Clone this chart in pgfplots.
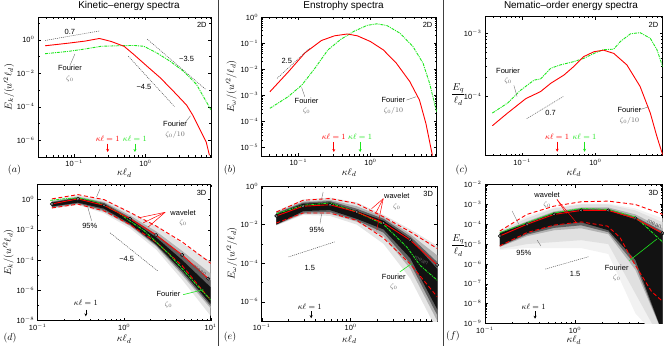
\documentclass[border=0pt]{standalone}
\usepackage{fontspec}
\setmainfont{Liberation Sans}
\usepackage{pgfplots}
\pgfplotsset{compat=1.18}
\usetikzlibrary{arrows.meta}

\definecolor{fgreen}{RGB}{30,230,30}
\newcommand\ann{\fontsize{7.5}{8.5}\selectfont}
\newcommand\mfont{\fontsize{8}{9}\selectfont}

\tikzset{leadline/.style={black!55, line width=0.4pt}}
\pgfplotsset{
  log number format basis/.code 2 args={#1\textsuperscript{\pgfmathprintnumber{#2}}},
  every axis/.append style={
    scale only axis, anchor=south west,
    axis line style={line width=0.6pt}, tick align=inside,
    major tick length=3pt, minor tick length=1.6pt,
    tick style={black, line width=0.4pt},
    ticklabel style={font=\fontsize{7.5}{8.5}\selectfont},
    label style={font=\fontsize{10}{11}\selectfont},
    xlabel={$\kappa\ell_d$},
  },
  fourierline/.style={fgreen, line width=0.9pt, dash pattern=on 3pt off 1pt on 1pt off 1pt},
  meanline/.style={red, line width=0.9pt},
  confline/.style={red, line width=0.9pt, dash pattern=on 4pt off 2.5pt},
  slopeline/.style={black!70, line width=0.5pt, dash pattern=on 1pt off 1pt},
  circmark/.style={only marks, mark=*, mark size=1.6pt, mark options={draw=black, fill=white, line width=0.6pt}},
  dotmark/.style={only marks, mark=*, mark size=0.45pt, black!70},
}

\begin{document}
\begin{tikzpicture}
\path[use as bounding box] (0,0) rectangle (664bp,346bp);

% column separators and titles
\draw[black!75, line width=0.8pt] (218.3bp,0) -- (218.3bp,346bp);
\draw[black!75, line width=0.8pt] (443.5bp,0) -- (443.5bp,346bp);
\node[font=\fontsize{10}{12}\selectfont] at (129bp,340bp) {Kinetic–energy spectra};
\node[font=\fontsize{10}{12}\selectfont] at (343.5bp,340bp) {Enstrophy spectra};
\node[font=\fontsize{10}{12}\selectfont] at (571bp,340bp) {Nematic–order energy spectra};

% ---------------- (a)
\begin{loglogaxis}[at={(38bp,189bp)}, width=173bp, height=140bp,
  xmin=0.031, xmax=8.3, ymin=1e-7, ymax=23,
  ytick={1e-6,1e-4,1e-2,1}, minor ytick={1e-7,1e-5,1e-3,1e-1,10},
  ylabel={$E_k/(u'^2\ell_d)$},
  ylabel style={at={(axis description cs:-0.168,0.5)}, anchor=center},
  xlabel style={at={(axis description cs:0.5,-0.115)}, anchor=center}]
\addplot[fourierline] coordinates {(0.039,0.148) (0.083,0.204) (0.14,0.28) (0.239,0.41) (0.41,0.44) (0.69,0.46) (0.95,0.41) (1.45,0.162) (2.22,0.052) (3.39,0.0135) (5.18,0.0022) (8.3,6.5e-5)};
\addplot[meanline] coordinates {(0.039,0.44) (0.083,0.63) (0.14,0.83) (0.226,1.2) (0.328,0.8) (0.5,0.41) (0.69,0.129) (1.055,0.026) (1.61,0.0054) (2.45,8.7e-4) (3.77,1.26e-4) (4.66,2.9e-5) (5.75,4.7e-6) (7.1,7.9e-7) (7.9,1.26e-7)};
\addplot[slopeline] coordinates {(0.039,0.91) (0.226,3.39)};
\addplot[slopeline] coordinates {(0.575,0.103) (2.54,1.05e-4)};
\addplot[slopeline] coordinates {(1.055,1.1) (6.97,1.1e-3)};
\node[font=\ann] at (axis cs:0.087,3.1) {0.7};
\node[font=\ann] at (axis cs:0.95,1.58e-3) {−4.5};
\node[font=\ann] at (axis cs:3.77,0.072) {−3.5};
\draw[leadline] (axis cs:0.087,0.029) -- (axis cs:0.102,0.141);
\node[font=\ann, align=center, inner sep=0pt] at (axis cs:0.087,9.7e-3) {Fourier\\[1pt]\textcolor{black!60}{$\zeta_0$}};
\draw[leadline] (axis cs:3.57,1.07e-5) -- (axis cs:4.28,2.9e-5);
\node[font=\ann, align=center, inner sep=0pt] at (axis cs:2.6,4.2e-6) {Fourier\\[1pt]\textcolor{black!60}{$\zeta_0/10$}};
\node[font=\ann, anchor=north east] at (rel axis cs:0.995,0.985) {2D};
\node[red, font=\mfont] at (axis cs:0.295,1.2e-6) {$\kappa\ell=1$};
\node[fgreen, font=\mfont] at (axis cs:0.71,1.2e-6) {$\kappa\ell=1$};
\draw[red, line width=0.6pt, -{Stealth[length=3pt,width=3pt]}] (axis cs:0.295,6.2e-7) -- (axis cs:0.295,2e-7);
\draw[fgreen, line width=0.6pt, -{Stealth[length=3pt,width=3pt]}] (axis cs:0.71,6.2e-7) -- (axis cs:0.71,2e-7);
\end{loglogaxis}

% ---------------- (b)
\begin{loglogaxis}[at={(261.7bp,190bp)}, width=175bp, height=139bp,
  xmin=0.031, xmax=8.3, ymin=4.8e-6, ymax=1,
  ytick={1e-5,1e-4,1e-3,1e-2,1e-1,1},
  ylabel={$E_\omega/(u'^2/\ell_d)$},
  ylabel style={at={(axis description cs:-0.174,0.5)}, anchor=center},
  xlabel style={at={(axis description cs:0.5,-0.12)}, anchor=center}]
\addplot[fourierline] coordinates {(0.0403,3.2e-4) (0.072,8.9e-4) (0.112,2.5e-3) (0.17,0.011) (0.257,0.055) (0.39,0.141) (0.589,0.282) (0.9,0.479) (1.23,0.55) (1.7,0.468) (2.57,0.24) (3.89,0.074) (5.37,0.017) (6.61,2.9e-3) (8.3,2.3e-4)};
\addplot[meanline] coordinates {(0.0403,1.38e-3) (0.073,8.1e-3) (0.123,0.042) (0.209,0.126) (0.316,0.19) (0.479,0.224) (0.66,0.19) (1.0,0.115) (1.51,0.055) (2.29,0.017) (3.51,3.4e-3) (4.79,6.6e-4) (5.89,8.3e-5) (7.24,5.0e-6)};
\addplot[slopeline] coordinates {(0.0507,4.5e-3) (0.144,0.0645)};
\node[font=\ann] at (axis cs:0.069,0.0214) {2.5};
\draw[leadline] (axis cs:0.123,8.9e-4) -- (axis cs:0.111,2.0e-3);
\node[font=\ann, align=center, inner sep=0pt] at (axis cs:0.13,4e-4) {Fourier\\[1pt]\textcolor{black!60}{$\zeta_0$}};
\draw[leadline] (axis cs:3.16,6.6e-4) -- (axis cs:4.3,8.9e-4);
\node[font=\ann, align=center, inner sep=0pt] at (axis cs:2.08,4e-4) {Fourier\\[1pt]\textcolor{black!60}{$\zeta_0/10$}};
\node[font=\ann, anchor=north east] at (rel axis cs:0.995,0.985) {2D};
\node[red, font=\mfont] at (axis cs:0.31,2.6e-5) {$\kappa\ell=1$};
\node[fgreen, font=\mfont] at (axis cs:0.72,2.6e-5) {$\kappa\ell=1$};
\draw[red, line width=0.6pt, -{Stealth[length=3pt,width=3pt]}] (axis cs:0.31,1.66e-5) -- (axis cs:0.31,6.8e-6);
\draw[fgreen, line width=0.6pt, -{Stealth[length=3pt,width=3pt]}] (axis cs:0.72,1.66e-5) -- (axis cs:0.72,6.8e-6);
\end{loglogaxis}

% ---------------- (c)
\begin{loglogaxis}[at={(485bp,190.3bp)}, width=177.7bp, height=139bp,
  xmin=0.031, xmax=8.3, ymin=1.17e-5, ymax=1.82e-3,
  ytick={1e-4,1e-3},
  ylabel={$\displaystyle\frac{E_q}{\ell_d}$},
  ylabel style={rotate=-90, at={(axis description cs:-0.15,0.44)}, anchor=center},
  xlabel style={at={(axis description cs:0.5,-0.12)}, anchor=center}]
\addplot[fourierline] coordinates {(0.039,5.5e-5) (0.063,7.9e-5) (0.095,1.26e-4) (0.145,1.82e-4) (0.178,1.9e-4) (0.245,2.8e-4) (0.331,3.16e-4) (0.5,3.55e-4) (0.69,4.0e-4) (0.955,4.8e-4) (1.29,5.5e-4) (1.78,5.6e-4) (2.19,7.4e-4) (3.02,9.8e-4) (4.07,1.02e-3) (5.62,8.3e-4) (6.92,5.5e-4) (8.3,2.95e-4)};
\addplot[meanline] coordinates {(0.039,3.47e-5) (0.063,5.5e-5) (0.112,9.3e-5) (0.178,1.2e-4) (0.245,1.62e-4) (0.372,2.19e-4) (0.5,2.95e-4) (0.69,4.27e-4) (0.955,5.1e-4) (1.29,5.4e-4) (1.78,4.8e-4) (2.69,3.16e-4) (4.07,1.45e-4) (5.62,5.5e-5) (6.92,2.34e-5) (8.3,1.2e-5)};
\addplot[slopeline] coordinates {(0.115,4.5e-5) (0.363,1e-4)};
\node[font=\ann] at (axis cs:0.243,5.6e-5) {0.7};
\draw[leadline] (axis cs:0.077,1.5e-4) -- (axis cs:0.085,1e-4);
\node[font=\ann, align=center, inner sep=0pt] at (axis cs:0.064,2.1e-4) {Fourier\\[1pt]\textcolor{black!60}{$\zeta_0$}};
\draw[leadline] (axis cs:4.0,6.2e-5) -- (axis cs:5.3,6.9e-5);
\node[font=\ann, align=center, inner sep=0pt] at (axis cs:2.91,5e-5) {Fourier\\[1pt]\textcolor{black!60}{$\zeta_0/10$}};
\node[font=\ann, anchor=north east] at (rel axis cs:0.995,0.985) {2D};
\node[red, font=\mfont] at (axis cs:0.3,2.34e-5) {$\kappa\ell=1$};
\node[fgreen, font=\mfont] at (axis cs:0.71,2.34e-5) {$\kappa\ell=1$};
\draw[red, line width=0.6pt, -{Stealth[length=3pt,width=3pt]}] (axis cs:0.3,1.95e-5) -- (axis cs:0.3,1.35e-5);
\draw[fgreen, line width=0.6pt, -{Stealth[length=3pt,width=3pt]}] (axis cs:0.71,1.95e-5) -- (axis cs:0.71,1.35e-5);
\end{loglogaxis}

% ---------------- (d)
\begin{loglogaxis}[at={(37.7bp,25.5bp)}, width=173bp, height=136bp,
  xmin=0.1, xmax=10, ymin=1e-8, ymax=10,
  ytick={1e-8,1e-6,1e-4,1e-2,1}, minor ytick={1e-7,1e-5,1e-3,1e-1,10},
  ylabel={$E_k/(u'^2\ell_d)$},
  ylabel style={at={(axis description cs:-0.17,0.5)}, anchor=center},
  xlabel style={at={(axis description cs:0.5,-0.138)}, anchor=center}]
\addplot[fill=black!10, draw=none] coordinates {(0.146,1.0) (0.292,2.0) (0.585,1.0) (1.17,0.141) (2.34,0.0178) (4.68,1.26e-3) (10,7.94e-5) (10,2.0e-8) (4.68,5.0e-6) (2.34,5.0e-4) (1.17,0.0126) (0.585,0.126) (0.292,0.447) (0.146,0.251)} -- cycle;
\addplot[fill=black!30, draw=none] coordinates {(0.146,0.794) (0.292,1.585) (0.585,0.708) (1.17,0.0891) (2.34,7.94e-3) (4.68,3.98e-4) (10,1.26e-5) (10,6.31e-8) (4.68,1e-5) (2.34,7.94e-4) (1.17,0.0178) (0.585,0.158) (0.292,0.501) (0.146,0.282)} -- cycle;
\addplot[fill=black!62, draw=none] coordinates {(0.146,0.708) (0.292,1.413) (0.585,0.603) (1.17,0.0661) (2.34,5.01e-3) (4.68,2.0e-4) (10,4.47e-6) (10,8.9e-8) (4.68,1.41e-5) (2.34,9.55e-4) (1.17,0.0209) (0.585,0.2) (0.292,0.562) (0.146,0.316)} -- cycle;
\addplot[fill=black!93, draw=none] coordinates {(0.146,0.631) (0.292,1.259) (0.585,0.501) (1.17,0.0501) (2.34,3.16e-3) (4.68,1e-4) (10,1.58e-6) (10,1.26e-7) (4.68,2.0e-5) (2.34,1.12e-3) (1.17,0.0251) (0.585,0.251) (0.292,0.631) (0.146,0.355)} -- cycle;
\addplot[confline] coordinates {(0.146,1.12) (0.292,2.14) (0.585,1.0) (1.17,0.141) (2.34,0.0178) (4.68,1.58e-3) (9.36,8.3e-5) (10,6e-5)};
\addplot[confline] coordinates {(0.146,0.282) (0.292,0.5) (0.585,0.178) (1.17,0.0219) (2.34,1.55e-3) (4.68,4.2e-5) (9.36,3.5e-7) (10,2.5e-7)};
\addplot[fourierline] coordinates {(0.14,0.89) (0.2,1.12) (0.3,1.29) (0.45,0.79) (0.6,0.4) (0.85,0.141) (1.17,0.037) (1.7,8.9e-3) (2.3,1.74e-3) (3.3,2.5e-4) (4.6,3.0e-5) (6.5,3.2e-6) (10,2.3e-7)};
\addplot[meanline] coordinates {(0.146,0.519) (0.292,1.12) (0.585,0.417) (1.17,0.055) (2.34,4.57e-3) (4.68,2.19e-4) (9.36,5.9e-6)};
\addplot[circmark] coordinates {(0.146,0.519) (0.292,1.12) (0.585,0.417) (1.17,0.055) (2.34,4.57e-3) (4.68,2.19e-4) (9.36,5.9e-6)};
\addplot[dotmark] coordinates {(0.146,0.519) (0.292,1.12) (0.585,0.417) (1.17,0.055) (2.34,4.57e-3) (4.68,2.19e-4) (9.36,5.9e-6)};
\addplot[slopeline] coordinates {(0.687,6.3e-3) (2.48,1.78e-5)};
\node[font=\ann] at (axis cs:1.07,1.17e-4) {−4.5};
\draw[leadline] (axis cs:0.42,0.04) -- (axis cs:0.38,0.3);
\draw[leadline] (axis cs:0.525,5.1) -- (axis cs:0.48,1.5);
\node[font=\ann] at (axis cs:0.4,0.019) {95\%};
\draw[red, line width=0.5pt] (axis cs:2.97,0.145) -- (axis cs:1.46,0.062);
\draw[red, line width=0.5pt] (axis cs:2.97,0.145) -- (axis cs:1.66,0.029);
\draw[red, line width=0.5pt] (axis cs:2.97,0.145) -- (axis cs:1.9,0.0155);
\node[font=\ann, align=center, inner sep=0pt] at (axis cs:4.8,0.063) {wavelet\\[1pt]\textcolor{black!60}{$\zeta_0$}};
\node[font=\fontsize{6}{7}\selectfont, black!65, rotate=-33, inner sep=0pt] at (axis cs:7.4,2.0e-5) {mean};
\draw[fgreen, line width=0.6pt] (axis cs:4.8,5.1e-7) -- (axis cs:8.2,1.1e-6);
\node[font=\ann, align=center, inner sep=0pt] at (axis cs:3.25,2.4e-7) {Fourier\\[1pt]\textcolor{black!60}{$\zeta_0$}};
\node[font=\ann, anchor=north east] at (rel axis cs:0.995,0.985) {3D};
\node[font=\mfont] at (axis cs:0.36,1.45e-7) {$\kappa\ell=1$};
\draw[line width=0.6pt, -{Stealth[length=3pt,width=3pt]}] (axis cs:0.36,5.2e-8) -- (axis cs:0.36,1.9e-8);
\end{loglogaxis}

% ---------------- (e)
\begin{loglogaxis}[at={(261.7bp,25bp)}, width=175.6bp, height=135bp,
  xmin=0.1, xmax=9.4, ymin=1e-7, ymax=1,
  ytick={1e-6,1e-4,1e-2,1}, minor ytick={1e-7,1e-5,1e-3,1e-1},
  ylabel={$E_\omega/(u'^2/\ell_d)$},
  ylabel style={at={(axis description cs:-0.17,0.5)}, anchor=center},
  xlabel style={at={(axis description cs:0.5,-0.138)}, anchor=center}]
\addplot[fill=black!10, draw=none] coordinates {(0.146,0.0501) (0.292,0.2) (0.585,0.251) (1.17,0.141) (2.34,0.0316) (4.68,5.62e-3) (9.4,7.94e-4) (9.4,3.16e-8) (4.68,1.58e-5) (2.34,1e-3) (1.17,0.01) (0.585,0.0282) (0.292,0.0316) (0.146,8.9e-3)} -- cycle;
\addplot[fill=black!30, draw=none] coordinates {(0.146,0.0447) (0.292,0.158) (0.585,0.191) (1.17,0.0891) (2.34,0.0251) (4.68,3.16e-3) (9.4,2.51e-4) (9.4,1e-7) (4.68,5e-5) (2.34,2.5e-3) (1.17,0.0141) (0.585,0.0355) (0.292,0.0355) (0.146,9.5e-3)} -- cycle;
\addplot[fill=black!62, draw=none] coordinates {(0.146,0.0398) (0.292,0.138) (0.585,0.166) (1.17,0.0661) (2.34,0.02) (4.68,2.4e-3) (9.4,1.12e-4) (9.4,2.0e-7) (4.68,9.5e-5) (2.34,3.8e-3) (1.17,0.0166) (0.585,0.0447) (0.292,0.0417) (0.146,9.8e-3)} -- cycle;
\addplot[fill=black!93, draw=none] coordinates {(0.146,0.0355) (0.292,0.12) (0.585,0.141) (1.17,0.0501) (2.34,0.0158) (4.68,1.78e-3) (9.4,5e-5) (9.4,3.98e-7) (4.68,1.78e-4) (2.34,5.6e-3) (1.17,0.02) (0.585,0.0562) (0.292,0.0501) (0.146,0.01)} -- cycle;
\addplot[confline] coordinates {(0.146,0.0447) (0.292,0.182) (0.585,0.224) (1.17,0.123) (2.34,0.0251) (4.68,4.17e-3) (9.4,5.75e-4)};
\addplot[confline] coordinates {(0.146,0.012) (0.292,0.0398) (0.585,0.0398) (1.17,0.0166) (2.34,2.0e-3) (4.68,8.9e-5) (9.4,1.78e-6)};
\addplot[fourierline] coordinates {(0.148,0.0372) (0.295,0.1) (0.585,0.132) (1.17,0.0447) (2.32,0.0105) (4.27,6.9e-4) (6.0,7.8e-5) (9.4,1.29e-5)};
\addplot[meanline] coordinates {(0.146,0.0282) (0.292,0.0891) (0.585,0.107) (1.17,0.0447) (2.34,0.012) (4.68,1.55e-3) (9.36,8.1e-5)};
\addplot[circmark] coordinates {(0.146,0.0282) (0.292,0.0891) (0.585,0.107) (1.17,0.0447) (2.34,0.012) (4.68,1.55e-3) (9.36,8.1e-5)};
\addplot[dotmark] coordinates {(0.146,0.0282) (0.292,0.0891) (0.585,0.107) (1.17,0.0447) (2.34,0.012) (4.68,1.55e-3) (9.36,8.1e-5)};
\addplot[slopeline] coordinates {(0.2,2.1e-4) (0.66,1.26e-3)};
\node[font=\ann] at (axis cs:0.347,5.9e-5) {1.5};
\draw[leadline] (axis cs:0.452,0.0112) -- (axis cs:0.472,0.037);
\draw[leadline] (axis cs:0.49,0.49) -- (axis cs:0.47,0.2);
\node[font=\ann] at (axis cs:0.417,5.5e-3) {95\%};
\draw[red, line width=0.5pt] (axis cs:2.32,0.22) -- (axis cs:1.72,0.067);
\draw[red, line width=0.5pt] (axis cs:2.32,0.22) -- (axis cs:1.9,0.037);
\draw[red, line width=0.5pt] (axis cs:2.32,0.22) -- (axis cs:1.96,5.1e-3);
\node[font=\ann, align=center, inner sep=0pt] at (axis cs:3.3,0.155) {wavelet\\[1pt]\textcolor{black!60}{$\zeta_0$}};
\node[font=\fontsize{6}{7}\selectfont, black!65, rotate=-28, inner sep=0pt] at (axis cs:6.2,1.4e-4) {mean};
\draw[fgreen, line width=0.6pt] (axis cs:3.57,3.5e-5) -- (axis cs:4.84,9.5e-5);
\node[font=\ann, align=center, inner sep=0pt] at (axis cs:3.05,1.07e-5) {Fourier\\[1pt]\textcolor{black!60}{$\zeta_0$}};
\node[font=\ann, anchor=north east] at (rel axis cs:0.995,0.985) {3D};
\node[font=\mfont] at (axis cs:0.347,5.6e-7) {$\kappa\ell=1$};
\draw[line width=0.6pt, -{Stealth[length=3pt,width=3pt]}] (axis cs:0.36,3.2e-7) -- (axis cs:0.36,1.4e-7);
\end{loglogaxis}

% ---------------- (f)
\begin{loglogaxis}[at={(485bp,22.7bp)}, width=177.7bp, height=138.6bp,
  xmin=0.1, xmax=9.4, ymin=1e-9, ymax=1e-2,
  ytick={1e-9,1e-8,1e-7,1e-6,1e-5,1e-4,1e-3,1e-2},
  ylabel={$\displaystyle\frac{E_q}{\ell_d}$},
  ylabel style={rotate=-90, at={(axis description cs:-0.15,0.563)}, anchor=center},
  xlabel style={at={(axis description cs:0.5,-0.122)}, anchor=center}]
\addplot[fill=black!5, draw=none] coordinates {(0.146,5.01e-5) (0.292,2.51e-4) (0.585,7.08e-4) (1.17,1.12e-3) (2.34,1.12e-3) (4.68,6.31e-4) (9.4,2.0e-4) (9.4,1e-10) (4.68,3.16e-9) (2.34,3.16e-6) (1.17,6.31e-6) (0.585,6.31e-6) (0.292,6.31e-6) (0.146,5.01e-6)} -- cycle;
\addplot[fill=black!12, draw=none] coordinates {(0.146,4.47e-5) (0.292,2.0e-4) (0.585,6.31e-4) (1.17,1e-3) (2.34,1e-3) (4.68,5.01e-4) (9.4,1.26e-4) (9.4,1e-10) (4.68,3.16e-8) (2.34,1e-5) (1.17,1.58e-5) (0.585,1.26e-5) (0.292,1e-5) (0.146,5.62e-6)} -- cycle;
\addplot[fill=black!30, draw=none] coordinates {(0.146,3.98e-5) (0.292,1.41e-4) (0.585,4.47e-4) (1.17,7.08e-4) (2.34,7.08e-4) (4.68,3.16e-4) (9.4,6.31e-5) (9.4,3.16e-10) (4.68,5.01e-7) (2.34,3.16e-5) (1.17,6.31e-5) (0.585,5.01e-5) (0.292,2.51e-5) (0.146,7.08e-6)} -- cycle;
\addplot[fill=black!62, draw=none] coordinates {(0.146,3.8e-5) (0.292,1.26e-4) (0.585,3.98e-4) (1.17,6.31e-4) (2.34,6.0e-4) (4.68,2.4e-4) (9.4,4.47e-5) (9.4,3.16e-10) (4.68,8.9e-7) (2.34,3.98e-5) (1.17,8.9e-5) (0.585,6.6e-5) (0.292,3.0e-5) (0.146,7.6e-6)} -- cycle;
\addplot[fill=black!93, draw=none] coordinates {(0.146,3.55e-5) (0.292,1.12e-4) (0.585,3.55e-4) (1.17,5.62e-4) (2.34,5.01e-4) (4.68,1.78e-4) (9.4,3.16e-5) (9.4,3.16e-10) (4.68,1.58e-6) (2.34,5.01e-5) (1.17,1.26e-4) (0.585,8.91e-5) (0.292,3.55e-5) (0.146,7.94e-6)} -- cycle;
\addplot[confline] coordinates {(0.146,4.57e-5) (0.292,3.16e-4) (0.585,8.3e-4) (1.17,1.38e-3) (2.34,1.48e-3) (4.68,1e-3) (9.4,3.16e-4)};
\addplot[confline] coordinates {(0.146,8.1e-6) (0.292,3.8e-5) (0.585,9.1e-5) (1.17,1.32e-4) (2.3,8.1e-5) (3.16,2.14e-5) (4.57,1e-6) (7.08,4e-8) (9.4,1.26e-8)};
\addplot[fourierline] coordinates {(0.146,3.8e-5) (0.292,1.2e-4) (0.585,3.8e-4) (1.17,6.31e-4) (2.34,5.62e-4) (4.68,2.34e-4) (6.3,6.76e-5) (9.4,1.26e-5)};
\addplot[meanline] coordinates {(0.146,2.57e-5) (0.292,1e-4) (0.585,3.16e-4) (1.17,5.01e-4) (2.34,5.01e-4) (4.68,2.0e-4) (9.36,3.55e-5)};
\addplot[circmark] coordinates {(0.146,2.57e-5) (0.292,1e-4) (0.585,3.16e-4) (1.17,5.01e-4) (2.34,5.01e-4) (4.68,2.0e-4) (9.36,3.55e-5)};
\addplot[dotmark] coordinates {(0.146,2.57e-5) (0.292,1e-4) (0.585,3.16e-4) (1.17,5.01e-4) (2.34,5.01e-4) (4.68,2.0e-4) (9.36,3.55e-5)};
\addplot[slopeline] coordinates {(0.468,5.5e-7) (1.41,2.3e-6)};
\node[font=\ann] at (axis cs:1.0,3.1e-7) {1.5};
\draw[leadline] (axis cs:0.38,1.58e-5) -- (axis cs:0.417,8.1e-6);
\draw[leadline] (axis cs:0.2,4.7e-4) -- (axis cs:0.237,1e-4);
\node[font=\ann] at (axis cs:0.27,3.7e-6) {95\%};
\draw[red, line width=0.5pt] (axis cs:0.63,1.8e-3) -- (axis cs:1.04,1.2e-4);
\draw[red, line width=0.5pt] (axis cs:0.63,1.8e-3) -- (axis cs:0.8,3.5e-4);
\node[font=\ann, align=center, inner sep=0pt] at (axis cs:0.49,1.7e-3) {wavelet\\[1pt]\textcolor{black!60}{$\zeta_0$}};
\node[font=\fontsize{6}{7}\selectfont, black!65, rotate=-22, inner sep=0pt] at (axis cs:7.6,1.0e-4) {mean};
\draw[fgreen, line width=0.6pt] (axis cs:4.0,1.45e-6) -- (axis cs:8.1,1.8e-5);
\node[font=\ann, align=center, inner sep=0pt] at (axis cs:2.9,3.5e-7) {Fourier\\[1pt]\textcolor{black!60}{$\zeta_0$}};
\node[font=\ann, anchor=north east] at (rel axis cs:0.995,0.985) {3D};
\node[font=\mfont] at (axis cs:0.347,6.5e-9) {$\kappa\ell=1$};
\draw[line width=0.6pt, -{Stealth[length=3pt,width=3pt]}] (axis cs:0.36,4e-9) -- (axis cs:0.36,1.7e-9);
\end{loglogaxis}

% panel letters
\node[font=\fontsize{10}{12}\selectfont] at (14.5bp,176bp) {$(a)$};
\node[font=\fontsize{10}{12}\selectfont] at (230bp,176bp) {$(b)$};
\node[font=\fontsize{10}{12}\selectfont] at (461.7bp,176bp) {$(c)$};
\node[font=\fontsize{10}{12}\selectfont] at (10bp,8bp) {$(d)$};
\node[font=\fontsize{10}{12}\selectfont] at (230bp,9.3bp) {$(e)$};
\node[font=\fontsize{10}{12}\selectfont] at (453bp,10bp) {$(f)$};
\end{tikzpicture}
\end{document}
